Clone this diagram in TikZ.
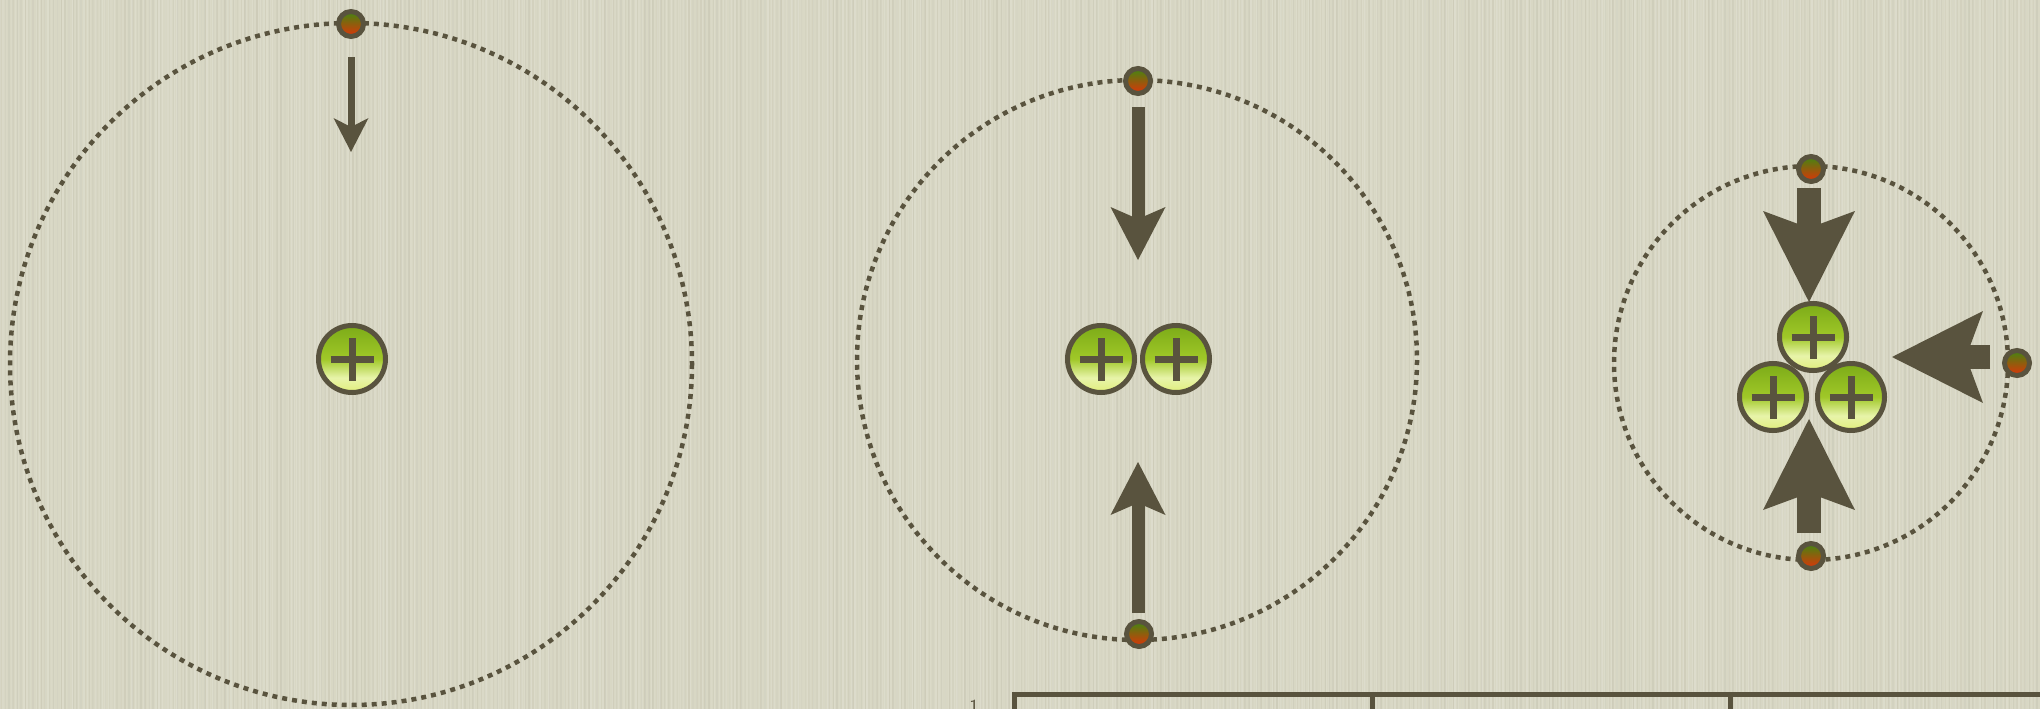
\documentclass[tikz,border=0pt]{standalone}
\usetikzlibrary{arrows.meta}

\definecolor{ink}{RGB}{89,83,62}
\definecolor{paper}{RGB}{216,215,196}
\definecolor{grnTop}{RGB}{88,142,8}
\definecolor{grnMid}{RGB}{160,200,40}
\definecolor{grnHi}{RGB}{232,244,170}
\definecolor{grnLow}{RGB}{222,236,110}
\definecolor{grnBot}{RGB}{204,224,58}
\definecolor{eGreen}{RGB}{65,135,18}
\definecolor{eRed}{RGB}{225,50,8}

% glossy green fill of a nucleon (runs from bottom to top)
\pgfdeclareverticalshading{protonshade}{100bp}{%
  color(0bp)=(grnBot); color(22bp)=(grnLow); color(36bp)=(grnHi);
  color(50bp)=(grnMid); color(100bp)=(grnTop)}

\tikzset{
  orbit/.style={draw=ink, line width=4.5pt, dash pattern=on 5pt off 5pt},
  proton/.style={circle, draw=ink, line width=5pt, minimum size=67pt,
    inner sep=0pt, shade, shading=protonshade,
    path picture={\draw[ink, line width=7pt]
      ([xshift=-21.5pt]path picture bounding box.center) --
      ([xshift=21.5pt]path picture bounding box.center)
      ([yshift=-21.5pt]path picture bounding box.center) --
      ([yshift=21.5pt]path picture bounding box.center);}},
  electron/.style={circle, draw=ink, line width=5pt, minimum size=25pt,
    inner sep=0pt, top color=eGreen, bottom color=eRed},
  pullS/.style={ink, line width=7pt,
    -{Stealth[length=34pt, width=35pt, inset=9pt, line width=0pt]}},
  pullM/.style={ink, line width=13pt,
    -{Stealth[length=53pt, width=55pt, inset=12pt, line width=0pt]}},
  pullL/.style={ink, line width=24pt,
    -{Stealth[length=91pt, width=92pt, inset=17pt, line width=0pt]}},
  rule/.style={draw=ink, line width=5pt, line join=miter},
}

\begin{document}
\begin{tikzpicture}[x=1pt, y=-1pt]
\useasboundingbox (0,0) rectangle (2040,709);
\clip (0,0) rectangle (2040,709);

% paper with a faint vertical grain
\fill[paper] (0,0) rectangle (2040,709);
\pgfmathsetseed{11}
\foreach \i in {0,3,...,2040}{
  \pgfmathsetmacro\op{0.03+0.12*rnd}
  \pgfmathsetmacro\w{0.5+1.8*rnd}
  \draw[white, opacity=\op, line width=\w pt] (\i,0) -- (\i,709);
}
\foreach \i in {1,5,...,2040}{
  \pgfmathsetmacro\op{0.02+0.06*rnd}
  \pgfmathsetmacro\w{0.5+1.2*rnd}
  \draw[ink, opacity=\op, line width=\w pt] (\i,0) -- (\i,709);
}

% ---- hydrogen: one proton, one electron ----
\draw[orbit] (351,364) circle[radius=341];
\node[proton] (p1) at (352,359) {};
\node[electron] (e1) at (351,24) {};
\coordinate (a1s) at (351,57);
\coordinate (a1e) at (351,152);
\draw[pullS] (a1s) -- (a1e);

% ---- helium: two protons, two electrons ----
\draw[orbit] (1137,360) circle[radius=280];
\node[proton] (p2a) at (1101,359) {};
\node[proton] (p2b) at (1176,359) {};
\node[electron] (e2t) at (1138,81) {};
\node[electron] (e2b) at (1139,634) {};
\coordinate (a2ts) at (1138,107);
\coordinate (a2te) at (1138,260);
\coordinate (a2bs) at (1138,613);
\coordinate (a2be) at (1138,462);
\draw[pullM] (a2ts) -- (a2te);
\draw[pullM] (a2bs) -- (a2be);

% ---- lithium: three protons, three electrons ----
\draw[orbit] (1811,363) circle[radius=197];
\node[proton] (p3a) at (1813,337) {};
\node[proton] (p3b) at (1773,397) {};
\node[proton] (p3c) at (1851,397) {};
\node[electron] (e3t) at (1811,169) {};
\node[electron] (e3b) at (1811,556) {};
\node[electron] (e3r) at (2017,363) {};
\coordinate (a3ts) at (1809,188);
\coordinate (a3te) at (1809,302);
\coordinate (a3bs) at (1809,533);
\coordinate (a3be) at (1809,419);
\coordinate (a3rs) at (1990,357);
\coordinate (a3re) at (1892,357);
\draw[pullL] (a3ts) -- (a3te);
\draw[pullL] (a3bs) -- (a3be);
\draw[pullL] (a3rs) -- (a3re);

% ---- table edge along the bottom ----
\coordinate (t0) at (1014.5,715);
\coordinate (t1) at (2050,694.5);
\coordinate (t2top) at (1372.5,694.5);
\coordinate (t2bot) at (1372.5,715);
\coordinate (t3top) at (1730.5,694.5);
\coordinate (t3bot) at (1730.5,715);
\draw[rule] (t0) |- (t1);
\draw[rule] (t2top) -- (t2bot);
\draw[rule] (t3top) -- (t3bot);
\node[anchor=north, inner sep=0pt, text=ink,
  font=\sffamily\fontsize{20}{20}\selectfont] (one) at (974,700) {1};
\end{tikzpicture}
\end{document}
